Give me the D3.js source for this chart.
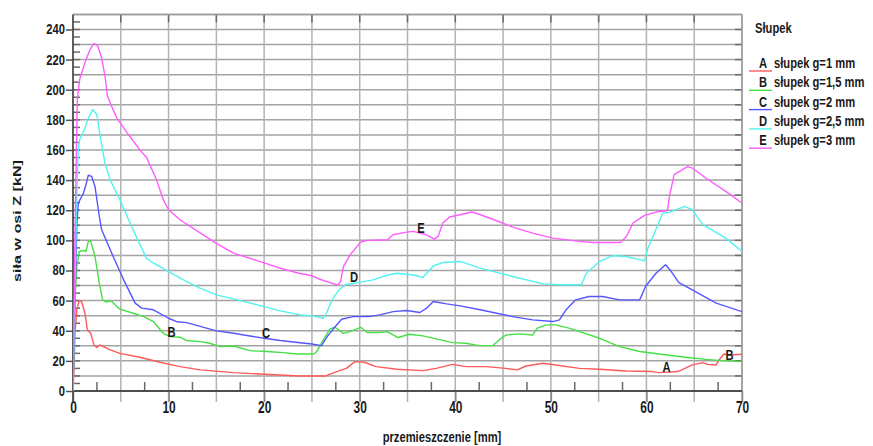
<!DOCTYPE html>
<html>
<head>
<meta charset="utf-8">
<script src="https://cdn.jsdelivr.net/npm/d3@7"></script>
<style>
  html, body { margin: 0; padding: 0; background: #fff; }
  svg { display: block; }
  text { font-family: "Liberation Sans", Arial, sans-serif; font-weight: bold; fill: #1a1a1a; }
</style>
</head>
<body>
<svg id="chart" width="873" height="446"></svg>
<script>
// Force along the Z axis [kN] versus displacement [mm] for five post thicknesses
const seriesA = [[0,0],[0.1,14],[0.2,38],[0.4,54],[0.65,60],[0.9,59.4],[1.25,51.6],[1.5,40.6],[1.85,38.3],[2.2,30.6],[2.5,28.8],[2.8,30.6],[3.9,27.3],[4.9,25],[7,22.4],[9.1,19.1],[11.2,16.2],[13.3,14],[16.8,12.2],[20,11.1],[23.75,10],[26.4,10],[27.6,12.9],[28.6,15],[29.5,19.5],[30.5,19.1],[31.7,16.2],[33.9,14.4],[36.6,13.5],[38,15],[39.7,17.7],[41.1,16.2],[43.2,16.2],[45.3,15],[46.5,14],[47.4,16.6],[49.2,18.4],[50.5,17.3],[53,15],[55.1,14.4],[57.9,13.3],[60.6,12.9],[61.3,12.2],[63.3,12.9],[64.8,17.3],[65.9,18.8],[66.4,17.7],[67.3,17.3],[67.6,20.6],[68.1,24.6],[68.7,23.9],[70,24.4]];
const seriesB = [[0,0],[0.1,30],[0.2,60],[0.4,82.7],[0.65,92.6],[1.1,93.3],[1.35,92.6],[1.6,99.3],[1.85,99.3],[2.3,89.3],[2.75,71.6],[3.1,60.5],[3.5,59],[4,59.8],[4.4,57.2],[4.9,54.3],[6.3,51.6],[7.4,49.4],[8.4,46.1],[9.45,38.3],[10.15,36.1],[11.2,35.7],[11.9,33.5],[13.3,32.8],[14.3,31.7],[15.4,29.5],[16.8,29.9],[18.5,26.8],[20.3,26.2],[22,25.5],[23.4,24.6],[25.2,24.6],[25.5,26.2],[26.2,33.9],[26.9,41.2],[27.4,42.3],[28.3,38.3],[29,39.4],[30.1,42.3],[30.8,38.8],[32.1,38.8],[32.9,39.4],[34,35.5],[35.2,37.7],[36.6,36.6],[38,34.6],[39.7,32.1],[41.1,31.7],[42.5,30.1],[43.9,30.1],[44.6,33.9],[45.3,37.2],[46.7,37.9],[48.1,37.2],[48.6,41.7],[49.5,43.9],[50.5,43.9],[51.9,41.7],[53,39.4],[55.1,35],[57.2,29.5],[59.3,26.2],[61.3,24.6],[64.1,22.4],[66.2,21],[68.3,20],[70,19.5]];
const seriesC = [[0,0],[0.2,60],[0.4,110],[0.55,124.8],[1.1,131.4],[1.4,138],[1.6,143.2],[1.95,142.5],[2.3,135.8],[2.75,116],[3,107],[4.2,89.3],[5.3,73.8],[6.5,58.3],[7.2,55],[8.4,53.9],[10,48.3],[10.85,46],[11.9,45.4],[15,39.9],[16.8,38.3],[20,35],[21.7,33.5],[23.75,32],[25,31.2],[26,30.1],[26.6,36.1],[27.3,41.7],[28.1,47.6],[29.3,49.4],[31,49.4],[32.1,50.5],[33.5,52.7],[34.9,53.4],[36.3,52.1],[37,55],[37.7,59.4],[39.1,57.8],[40.5,56.5],[42.6,53.9],[46,49.4],[48.1,47.2],[50.2,46.1],[50.9,47.2],[51.6,54],[52.6,60.5],[54,62.7],[55.4,62.7],[57.2,60.5],[59.3,60.5],[59.9,69.4],[61,78.2],[62,83.8],[62.6,79.3],[63.4,72],[64.8,67.2],[67.3,58.3],[70,52.7]];
const seriesD = [[0,0],[0.2,70],[0.4,130],[0.55,160],[0.7,167],[1.25,174.6],[1.6,181],[2.05,186.8],[2.5,183.5],[2.8,171],[3.35,151],[3.9,140],[4.9,127],[5.8,114],[6.8,100],[7.7,88],[8.4,85],[10,79.3],[11.55,73.8],[13.3,68.3],[15,63.8],[16.8,61.2],[20,56],[21.7,53.2],[23.75,50.5],[25,49.9],[26.2,48.3],[26.6,52.7],[27.1,60.5],[27.8,67],[28.5,70.5],[30.1,72.3],[31.4,73.8],[32.9,77],[33.9,78.2],[35.6,77],[36.6,75.4],[37,78.2],[37.7,83],[38.7,85.3],[40.5,86],[42.6,81.6],[46,76],[49.2,71.1],[50.9,70.5],[53.2,70.5],[53.7,78.2],[55.1,86],[56.5,89.8],[57.9,89.3],[59.8,86.4],[60.1,93.7],[61.7,118],[62.4,118.6],[64,122.6],[64.8,120.3],[65.9,110.4],[68.3,101.5],[70,92.6]];
const seriesE = [[0,0],[0.2,100],[0.45,193],[0.7,207],[1.25,218],[1.8,227],[2.2,230.7],[2.6,229],[3,221],[3.35,209],[3.6,196],[3.9,191],[4.6,181],[5.6,172],[7,160],[7.7,155],[8.75,140],[9.45,127],[10,120.3],[11.2,113.7],[13.3,105],[15,98],[16.8,91.5],[20,85],[21.7,81.5],[23.75,78],[25,76.5],[25.9,74],[27.7,70.3],[28,72.7],[28.3,82.7],[29,90.4],[30.1,98.8],[30.8,100],[32.9,100.4],[33.5,103.7],[34.9,105.5],[35.6,106],[37,103.7],[37.8,100.8],[38.2,102.6],[38.7,111.5],[39.4,115.5],[40.5,117],[41.7,118.8],[42.2,118],[43.9,114],[46,108.8],[48.1,104.8],[50.2,101.5],[53,99.3],[54.4,98.6],[57.3,98.6],[57.9,102.6],[58.6,111.5],[59.8,116.6],[61.3,119.2],[62.2,119.7],[62.4,129],[62.9,143.6],[63.6,146.3],[64.3,149],[64.8,148],[66.2,141.4],[68.3,132.5],[70,124.8]];

const seriesKeys = ["A", "B", "C", "D", "E"];
const seriesNames = ["słupek g=1 mm", "słupek g=1,5 mm", "słupek g=2 mm", "słupek g=2,5 mm", "słupek g=3 mm"];
const seriesColors = ["#ff5a5a", "#45e045", "#5656ff", "#52f2f2", "#ff5cff"];
const seriesData = [seriesA, seriesB, seriesC, seriesD, seriesE];

const xTickValues = [0, 10, 20, 30, 40, 50, 60, 70];
const yTickValues = [0, 20, 40, 60, 80, 100, 120, 140, 160, 180, 200, 220, 240];

// Letters written next to the curves: [letter, x mm, force kN]
const curveLetters = [["B", 10.3, 39.4], ["C", 20.2, 38.6], ["D", 29.4, 75.8], ["E", 36.4, 108.4], ["A", 62.1, 15.9], ["B", 68.7, 23.9]];

const svg = d3.select("#chart");
const plotLeft = 73, plotRight = 742, plotTop = 14.4, plotBottom = 391;

const x = d3.scaleLinear().domain([0, 70]).range([plotLeft, plotRight]);
const y = d3.scaleLinear().domain([0, 250]).range([plotBottom, plotTop]);

// condensed text: place at (px, py) and squeeze horizontally
const squeeze = (px, py, sx) => `translate(${px},${py}) scale(${sx},1)`;

// grid
const grid = svg.append("g");
grid.selectAll("line.h").data(d3.range(10, 251, 10)).join("line").attr("class", "h")
  .attr("x1", plotLeft).attr("x2", plotRight)
  .attr("y1", d => y(d)).attr("y2", d => y(d))
  .attr("stroke", "#a3a3a3").attr("stroke-width", 1.5);
grid.selectAll("line.v").data(d3.range(5, 71, 5)).join("line").attr("class", "v")
  .attr("x1", d => x(d)).attr("x2", d => x(d))
  .attr("y1", plotTop).attr("y2", plotBottom + 11)
  .attr("stroke", "#b3b3b3").attr("stroke-width", 1.5);

// tick marks along the frame
const ticks = svg.append("g").attr("stroke", "#6a6a6a").attr("stroke-width", 1.5);
ticks.selectAll("line.yi").data(d3.range(5, 250, 5)).join("line").attr("class", "yi")
  .attr("x1", plotLeft).attr("x2", plotLeft + 7)
  .attr("y1", d => y(d)).attr("y2", d => y(d));
ticks.selectAll("line.ri").data(d3.range(10, 250, 10)).join("line").attr("class", "ri")
  .attr("x1", plotRight - 7).attr("x2", plotRight)
  .attr("y1", d => y(d)).attr("y2", d => y(d));
ticks.selectAll("line.xi").data(d3.range(2.5, 70, 5)).join("line").attr("class", "xi")
  .attr("x1", d => x(d)).attr("x2", d => x(d))
  .attr("y1", plotBottom - 9).attr("y2", plotBottom);
ticks.selectAll("line.ti").data(d3.range(5, 70, 5)).join("line").attr("class", "ti")
  .attr("x1", d => x(d)).attr("x2", d => x(d))
  .attr("y1", plotTop).attr("y2", plotTop + 8);

// axes
const yAxis = d3.axisLeft(y).tickValues(yTickValues).tickSize(7).tickPadding(2).tickFormat(d3.format("d"));
const yg = svg.append("g").attr("transform", `translate(${plotLeft},0)`).call(yAxis);
yg.select(".domain").remove();
yg.selectAll(".tick line").attr("stroke", "#555").attr("stroke-width", 1.5);
yg.selectAll(".tick text").attr("font-size", 14).attr("fill", "#1a1a1a")
  .attr("font-family", null).attr("font-weight", "bold")
  .attr("x", 0).attr("transform", squeeze(-8, 0, 0.8));

const xAxis = d3.axisBottom(x).tickValues(xTickValues).tickSize(11).tickPadding(0).tickFormat(d3.format("d"));
const xg = svg.append("g").attr("transform", `translate(0,${plotBottom})`).call(xAxis);
xg.select(".domain").remove();
xg.selectAll(".tick line").attr("stroke", "#888").attr("stroke-width", 1.5);
xg.selectAll(".tick text").attr("font-size", 17).attr("fill", "#1a1a1a")
  .attr("font-family", null).attr("font-weight", "bold")
  .attr("y", 0).attr("dy", null).attr("transform", squeeze(0, 22, 0.7));

// frame
svg.append("line").attr("x1", plotLeft).attr("x2", plotRight).attr("y1", plotTop).attr("y2", plotTop)
  .attr("stroke", "#9a9a9a").attr("stroke-width", 1.5);
svg.append("line").attr("x1", plotRight).attr("x2", plotRight).attr("y1", plotTop).attr("y2", plotBottom)
  .attr("stroke", "#9a9a9a").attr("stroke-width", 1.5);
svg.append("line").attr("x1", plotLeft).attr("x2", plotLeft).attr("y1", plotTop).attr("y2", plotBottom + 11)
  .attr("stroke", "#4d4d4d").attr("stroke-width", 1.8);
svg.append("line").attr("x1", plotLeft).attr("x2", plotRight).attr("y1", plotBottom).attr("y2", plotBottom)
  .attr("stroke", "#4d4d4d").attr("stroke-width", 1.8);

// curves
svg.append("clipPath").attr("id", "plot-clip").append("rect")
  .attr("x", plotLeft).attr("y", plotTop).attr("width", plotRight - plotLeft).attr("height", plotBottom - plotTop);
const line = d3.line().x(d => x(d[0])).y(d => y(d[1]));
svg.append("g").attr("clip-path", "url(#plot-clip)")
  .selectAll("path").data(seriesData).join("path")
  .attr("d", line).attr("fill", "none")
  .attr("stroke", (d, i) => seriesColors[i]).attr("stroke-width", 1.4)
  .attr("stroke-linejoin", "round");

// curve letters
svg.append("g").selectAll("text").data(curveLetters).join("text")
  .attr("transform", d => squeeze(x(d[1]), y(d[2]) + 5, 0.8))
  .attr("text-anchor", "middle").attr("font-size", 14)
  .text(d => d[0]);

// axis titles
svg.append("text").attr("transform", squeeze(442, 442, 0.8)).attr("text-anchor", "middle")
  .attr("font-size", 14).text("przemieszczenie [mm]");
svg.append("text").attr("transform", "translate(20.5,221) rotate(-90)")
  .attr("text-anchor", "middle").attr("font-size", 11.5)
  .attr("textLength", 122).attr("lengthAdjust", "spacingAndGlyphs")
  .text("siła w osi Z [kN]");

// legend
const legend = svg.append("g");
legend.append("text").attr("transform", squeeze(755, 33, 0.8)).attr("font-size", 14).text("Słupek");
const rows = legend.selectAll("g").data(seriesKeys).join("g")
  .attr("transform", (d, i) => `translate(0,${68 + i * 19.3})`);
rows.append("line").attr("x1", 749).attr("x2", 772).attr("y1", 3).attr("y2", 3)
  .attr("stroke", (d, i) => seriesColors[i]).attr("stroke-width", 1.4);
rows.append("text").attr("transform", squeeze(763, 0, 0.8)).attr("text-anchor", "middle")
  .attr("font-size", 14).text(d => d);
rows.append("text").attr("transform", squeeze(774, 0, 0.8)).attr("font-size", 14)
  .text((d, i) => seriesNames[i]);
</script>
</body>
</html>
